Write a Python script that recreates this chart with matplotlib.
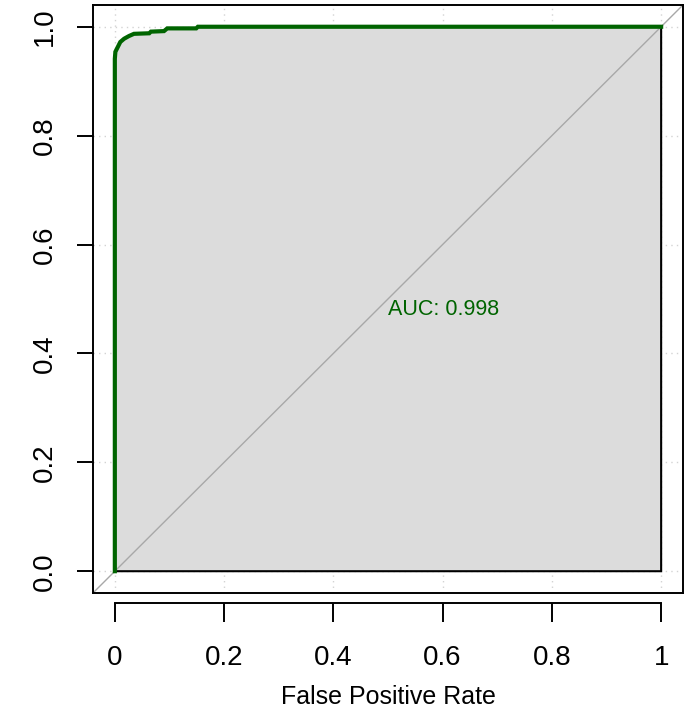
import matplotlib
matplotlib.use('Agg')
import numpy as np
import matplotlib.pyplot as plt

# ROC curve (false positive rate, true positive rate)
fpr = [0.0, 0.0, 0.001, 0.004, 0.007, 0.010, 0.017, 0.026, 0.035, 0.063, 0.066,
       0.090, 0.096, 0.149, 0.152, 1.0]
tpr = [0.0, 0.941, 0.954, 0.960, 0.966, 0.972, 0.978, 0.983, 0.987, 0.988, 0.991,
       0.992, 0.997, 0.997, 1.0, 1.0]
auc = 0.998
ticks = [0, 0.2, 0.4, 0.6, 0.8, 1]
xtick_labels = ['0', '0.2', '0.4', '0.6', '0.8', '1']
ytick_labels = ['0.0', '0.2', '0.4', '0.6', '0.8', '1.0']

plt.rcParams['font.family'] = ['Liberation Sans', 'DejaVu Sans']

fig = plt.figure(figsize=(6.97, 7.20), dpi=100)
ax = fig.add_axes([0.1334, 0.1764, 0.8465, 0.8167])
ax.set_xlim(-0.04, 1.04)
ax.set_ylim(-0.04, 1.04)

# dotted grid under everything
for t in ticks:
    ax.axvline(t, color='#d3d3d3', lw=1, ls=(0, (1, 3)), zorder=0)
    ax.axhline(t, color='#d3d3d3', lw=1, ls=(0, (1, 3)), zorder=0)

# grey area under the curve
px = fpr + [1.0, 0.0]
py = tpr + [0.0, 0.0]
ax.fill(px, py, facecolor='#dcdcdc', edgecolor='black', lw=1.5, zorder=1)

# chance diagonal over the whole box
ax.axline((0, 0), (1, 1), color='#a8a8a8', lw=1, zorder=2)

ax.plot(fpr, tpr, color='#006400', lw=3, zorder=3, solid_joinstyle='miter')

ax.text(0.5, 0.48, 'AUC: %.3f' % auc, color='#006400', fontsize=15.5,
        ha='left', va='center', zorder=4)

# box plus an offset x axis, like base R graphics
for s in ['left', 'top', 'right']:
    ax.spines[s].set_linewidth(1.4)
ax.spines['bottom'].set_position(('outward', 7))
ax.spines['bottom'].set_bounds(0, 1)
ax.spines['bottom'].set_linewidth(1.4)
ax.plot([0, 1], [0, 0], transform=ax.transAxes, color='black', lw=1.4,
        clip_on=False, zorder=5)

ax.set_xticks(ticks)
ax.set_xticklabels(xtick_labels)
ax.set_yticks(ticks)
ax.set_yticklabels(ytick_labels, rotation=90, va='center')
ax.tick_params(axis='x', length=13.5, width=1.4, pad=17, labelsize=20)
ax.tick_params(axis='y', length=11.5, width=1.4, pad=14, labelsize=20)
ax.set_xlabel('False Positive Rate', fontsize=18, labelpad=10)

fig.savefig('out.png', dpi=100)
